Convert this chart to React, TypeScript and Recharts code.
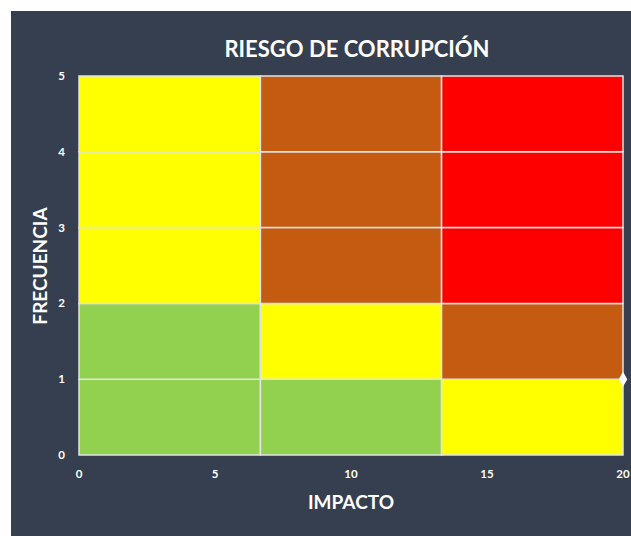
import { ComposedChart, XAxis, YAxis, ReferenceArea, Scatter } from 'recharts';

// bordes de las bandas de impacto (eje X) y frecuencia (eje Y)
const impactBreaks = [0, 6.67, 13.33, 20];
const freqBreaks = [0, 1, 2, 3, 4, 5];
const xTicks = [0, 5, 10, 15, 20];
const yTicks = [0, 1, 2, 3, 4, 5];

// nivel de riesgo por fila (de frecuencia 0-1 hacia arriba) y columna de impacto
const riskRows = [
  ['bajo', 'bajo', 'moderado'],
  ['bajo', 'moderado', 'alto'],
  ['moderado', 'alto', 'extremo'],
  ['moderado', 'alto', 'extremo'],
  ['moderado', 'alto', 'extremo'],
];

const levelColors: Record<string, string> = {
  bajo: '#92d050',
  moderado: '#ffff00',
  alto: '#c55a11',
  extremo: '#ff0000',
};

const points = [{ impacto: 20, frecuencia: 1 }];

const BG = '#353f50';
const TEXT = '#ffffff';

export default function App() {
  const cells = riskRows.flatMap((row, r) =>
    row.map((level, c) => ({
      x1: impactBreaks[c],
      x2: impactBreaks[c + 1],
      y1: freqBreaks[r],
      y2: freqBreaks[r + 1],
      color: levelColors[level],
    }))
  );

  return (
    <div
      style={{
        position: 'absolute',
        left: 11,
        top: 11,
        width: 620,
        height: 525,
        background: BG,
        overflow: 'hidden',
        fontFamily: 'Lato, "Open Sans", sans-serif',
      }}
    >
      <div
        style={{
          position: 'absolute',
          left: 0,
          width: 692,
          top: 25,
          textAlign: 'center',
          color: TEXT,
          fontWeight: 700,
          fontSize: 22,
          lineHeight: '26px',
        }}
      >
        RIESGO DE CORRUPCIÓN
      </div>
      <div
        style={{
          position: 'absolute',
          left: 0,
          width: 680,
          top: 479,
          textAlign: 'center',
          color: TEXT,
          fontWeight: 700,
          fontSize: 19,
          lineHeight: '24px',
        }}
      >
        IMPACTO
      </div>
      <div
        style={{
          position: 'absolute',
          left: 29 - 100,
          top: 255 - 12,
          width: 200,
          textAlign: 'center',
          color: TEXT,
          fontWeight: 700,
          fontSize: 19,
          lineHeight: '24px',
          transform: 'rotate(-90deg)',
        }}
      >
        FRECUENCIA
      </div>
      <ComposedChart
        width={620}
        height={525}
        margin={{ top: 65, right: 8, bottom: 0, left: 28 }}
        style={{ position: 'absolute', left: 0, top: 0 }}
      >
        <XAxis
          type="number"
          dataKey="impacto"
          domain={[0, 20]}
          ticks={xTicks}
          axisLine={false}
          tickLine={false}
          tickSize={0}
          tickMargin={15}
          height={81}
          tick={{ fill: TEXT, fontSize: 11.5, fontWeight: 700 }}
        />
        <YAxis
          type="number"
          dataKey="frecuencia"
          domain={[0, 5]}
          ticks={yTicks}
          axisLine={false}
          tickLine={false}
          tickSize={0}
          tickMargin={14}
          width={40}
          tick={{ fill: TEXT, fontSize: 11.5, fontWeight: 700 }}
        />
        {cells.map((c, i) => (
          <ReferenceArea
            key={`cell-${i}`}
            x1={c.x1}
            x2={c.x2}
            y1={c.y1}
            y2={c.y2}
            fill={c.color}
            fillOpacity={1}
            stroke="#e2e2e2"
            strokeWidth={1.5}
            ifOverflow="visible"
          />
        ))}
        <Scatter
          data={points}
          shape="diamond"
          fill="#ffffff"
          legendType="none"
          isAnimationActive={false}
        />
      </ComposedChart>
    </div>
  );
}
